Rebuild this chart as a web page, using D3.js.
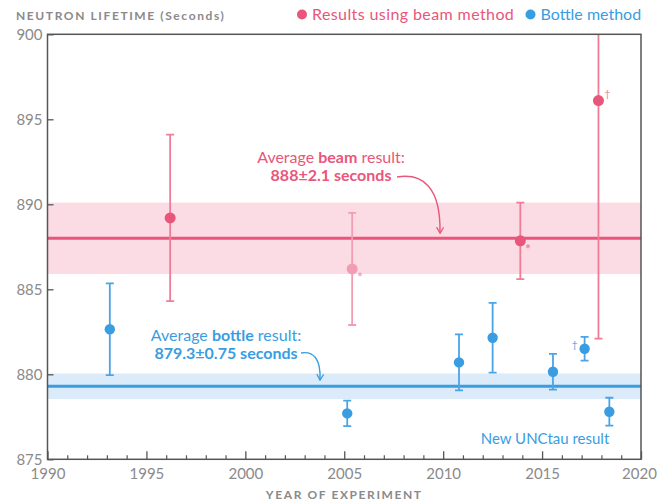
<!DOCTYPE html>
<html>
<head>
<meta charset="utf-8">
<script src="https://cdn.jsdelivr.net/npm/d3@7"></script>
<style>
  html, body { margin: 0; padding: 0; background: #fff; }
  svg { display: block; font-family: Lato, "Noto Sans", sans-serif; }
</style>
</head>
<body>
<svg id="chart" width="657" height="502"></svg>
<script>
// Neutron lifetime measurements (seconds) by year of experiment
const beamYears   = [1996.2, 2005.4, 2013.9, 2017.85];
const beamValues  = [889.2, 886.2, 887.85, 896.1];
const beamErrors  = [4.9, 3.3, 2.25, 14];
const beamMarks   = ["", "*", "*", "\u2020"];
const beamFaded   = [false, true, false, false];

const bottleYears  = [1993.15, 2005.15, 2010.8, 2012.5, 2015.55, 2017.15, 2018.4];
const bottleValues = [882.65, 877.7, 880.7, 882.15, 880.15, 881.5, 877.8];
const bottleErrors = [2.7, 0.75, 1.65, 2.05, 1.05, 0.7, 0.82];
const bottleMarks  = ["", "", "", "", "", "\u2020", ""];

const beamAverage = 888, beamAverageErr = 2.1;
const bottleAverage = 879.3, bottleAverageErr = 0.75;

const yearTicks = [1990, 1995, 2000, 2005, 2010, 2015, 2020];
const lifetimeTicks = [875, 880, 885, 890, 895, 900];

const PINK = "#e9567b", PINK_BAR = "#f07c98", PINK_LIGHT = "#f39db3", PINK_BAND = "#fcdce4";
const BLUE = "#3a9de2", BLUE_BAR = "#4aa5e6", BLUE_BAND = "#dbebf9";
const GREY = "#8a8a8a", FRAME = "#555";

const svg = d3.select("#chart");
const x = d3.scaleLinear().domain([1990, 2020]).range([47.5, 641]);
const y = d3.scaleLinear().domain([875, 900]).range([459.3, 34.3]);

const defs = svg.append("defs");
defs.append("clipPath").attr("id", "plot-clip")
  .append("rect").attr("x", x(1990)).attr("y", y(900))
  .attr("width", x(2020) - x(1990)).attr("height", y(875) - y(900));
// Open "V" arrowheads, drawn along +x so they follow the path direction
[["arrow-pink", PINK], ["arrow-blue", BLUE]].forEach(([id, col]) => {
  defs.append("marker").attr("id", id).attr("viewBox", "0 0 10 10")
    .attr("refX", 9).attr("refY", 5).attr("markerWidth", 8).attr("markerHeight", 8)
    .attr("orient", "auto").attr("markerUnits", "userSpaceOnUse")
    .append("path").attr("d", "M2,1 L9,5 L2,9").attr("fill", "none")
    .attr("stroke", col).attr("stroke-width", 1.6).attr("stroke-linecap", "round")
    .attr("stroke-linejoin", "round");
});

const plot = svg.append("g").attr("clip-path", "url(#plot-clip)");

// Average bands and lines
function band(avg, err, fill, stroke) {
  plot.append("rect").attr("x", x(1990)).attr("width", x(2020) - x(1990))
    .attr("y", y(avg + err)).attr("height", y(avg - err) - y(avg + err)).attr("fill", fill);
  plot.append("line").attr("x1", x(1990)).attr("x2", x(2020))
    .attr("y1", y(avg)).attr("y2", y(avg)).attr("stroke", stroke).attr("stroke-width", 3);
}
band(beamAverage, beamAverageErr, PINK_BAND, PINK);
band(bottleAverage, bottleAverageErr, BLUE_BAND, BLUE);

// Error bars and points
function series(years, values, errors, marks, barColor, dotColor, faded, r) {
  const data = years.map((yr, i) => ({yr, v: values[i], e: errors[i], m: marks[i], f: faded ? faded[i] : false}));
  const g = plot.append("g");
  const capW = 4;
  data.forEach(d => {
    const cx = x(d.yr), col = d.f ? PINK_LIGHT : barColor;
    g.append("line").attr("x1", cx).attr("x2", cx).attr("y1", y(d.v + d.e)).attr("y2", y(d.v - d.e))
      .attr("stroke", col).attr("stroke-width", 1.8);
    [d.v + d.e, d.v - d.e].forEach(v => {
      g.append("line").attr("x1", cx - capW).attr("x2", cx + capW).attr("y1", y(v)).attr("y2", y(v))
        .attr("stroke", col).attr("stroke-width", 1.8);
    });
  });
  data.forEach(d => {
    g.append("circle").attr("cx", x(d.yr)).attr("cy", y(d.v)).attr("r", r)
      .attr("fill", d.f ? PINK_LIGHT : dotColor);
  });
  return data;
}
const beamData = series(beamYears, beamValues, beamErrors, beamMarks, PINK_BAR, PINK, beamFaded, 5.5);
const bottleData = series(bottleYears, bottleValues, bottleErrors, bottleMarks, BLUE_BAR, BLUE, null, 5.2);

// Footnote symbols beside points
beamData.forEach(d => {
  if (!d.m) return;
  const dagger = d.m === "\u2020";
  svg.append("text").attr("x", x(d.yr) + (dagger ? 6 : 5)).attr("y", y(d.v) + (dagger ? -4 : 13))
    .attr("font-size", dagger ? 10 : 13).attr("font-weight", dagger ? 400 : 700)
    .attr("fill", d.f ? PINK_LIGHT : PINK_BAR).text(d.m);
});
bottleData.forEach(d => {
  if (!d.m) return;
  svg.append("text").attr("x", x(d.yr) - 7).attr("y", y(d.v) - 1).attr("text-anchor", "end")
    .attr("font-size", 10).attr("fill", BLUE_BAR).text(d.m);
});

// Frame
svg.append("rect").attr("x", x(1990)).attr("y", y(900))
  .attr("width", x(2020) - x(1990)).attr("height", y(875) - y(900))
  .attr("fill", "none").attr("stroke", FRAME).attr("stroke-width", 1.5);

// Y axis: ticks point into the plot
const yAxis = svg.append("g").attr("transform", `translate(${x(1990)},0)`)
  .call(d3.axisRight(y).tickValues(lifetimeTicks).tickSize(6).tickFormat(d3.format("d")));
yAxis.select(".domain").remove();
yAxis.selectAll(".tick line").attr("stroke", FRAME).attr("stroke-width", 1.3);
yAxis.selectAll(".tick text").attr("x", -5).attr("text-anchor", "end")
  .attr("fill", GREY).attr("font-size", 15).attr("font-family", "Lato, sans-serif");

// X axis: yearly minor ticks, five-year labelled ticks
const minorYears = d3.range(1991, 2020).filter(v => v % 5 !== 0);
const xMinor = svg.append("g").attr("transform", `translate(0,${y(875)})`)
  .call(d3.axisTop(x).tickValues(minorYears).tickSize(4).tickFormat(""));
xMinor.select(".domain").remove();
xMinor.selectAll(".tick line").attr("stroke", FRAME).attr("stroke-width", 1.2);
const xAxis = svg.append("g").attr("transform", `translate(0,${y(875)})`)
  .call(d3.axisTop(x).tickValues(yearTicks).tickSize(8).tickFormat(d3.format("d")));
xAxis.select(".domain").remove();
xAxis.selectAll(".tick line").attr("stroke", FRAME).attr("stroke-width", 1.3);
xAxis.selectAll(".tick text").attr("y", 20).attr("dy", 0)
  .attr("fill", GREY).attr("font-size", 15).attr("font-family", "Lato, sans-serif")
  .attr("dx", d => d === 2020 ? -2 : 0);

// Titles
svg.append("text").attr("x", 16).attr("y", 20).attr("fill", GREY)
  .attr("font-size", 12).attr("font-weight", 700).attr("letter-spacing", 1.6)
  .text("NEUTRON LIFETIME (Seconds)");
svg.append("text").attr("x", (x(1990) + x(2020)) / 2).attr("y", 499).attr("text-anchor", "middle")
  .attr("fill", GREY).attr("font-size", 12).attr("font-weight", 700).attr("letter-spacing", 1.6)
  .text("YEAR OF EXPERIMENT");

// Legend
const legend = [
  {label: "Results using beam method", color: PINK, cx: 302, spacing: 0.4},
  {label: "Bottle method", color: BLUE, cx: 530.5, spacing: 0}
];
legend.forEach(l => {
  svg.append("circle").attr("cx", l.cx).attr("cy", 14.5).attr("r", 5).attr("fill", l.color);
  svg.append("text").attr("x", l.cx + 10).attr("y", 20).attr("fill", l.color)
    .attr("font-size", 16).attr("letter-spacing", l.spacing).text(l.label);
});

// Average annotations
function annotate(cx, y1, pre, bold, post, line2, color, arrowPath, markerId) {
  const t1 = svg.append("text").attr("x", cx).attr("y", y1).attr("text-anchor", "middle")
    .attr("fill", color).attr("font-size", 16);
  t1.append("tspan").text(pre);
  t1.append("tspan").attr("font-weight", 700).text(bold);
  t1.append("tspan").text(post);
  svg.append("text").attr("x", cx).attr("y", y1 + 18).attr("text-anchor", "middle")
    .attr("fill", color).attr("font-size", 16).attr("font-weight", 700).text(line2);
  svg.append("path").attr("d", arrowPath).attr("fill", "none").attr("stroke", color)
    .attr("stroke-width", 1.4).attr("marker-end", `url(#${markerId})`);
}
const beamTip = y(beamAverage) - 5;
annotate(331, 163, "Average ", "beam", " result:", `${beamAverage}\u00b1${beamAverageErr} seconds`, PINK,
  `M397,177 C422,173 441,186 440,${beamTip}`, "arrow-pink");
const bottleTip = y(bottleAverage) - 6;
annotate(226, 341, "Average ", "bottle", " result:", `${bottleAverage}\u00b1${bottleAverageErr} seconds`, BLUE,
  `M301,353 C313,351 321,358 320,${bottleTip}`, "arrow-blue");

// Latest bottle result label
svg.append("text").attr("x", 545).attr("y", 444).attr("text-anchor", "middle")
  .attr("fill", BLUE).attr("font-size", 15).text("New UNCtau result");
</script>
</body>
</html>
